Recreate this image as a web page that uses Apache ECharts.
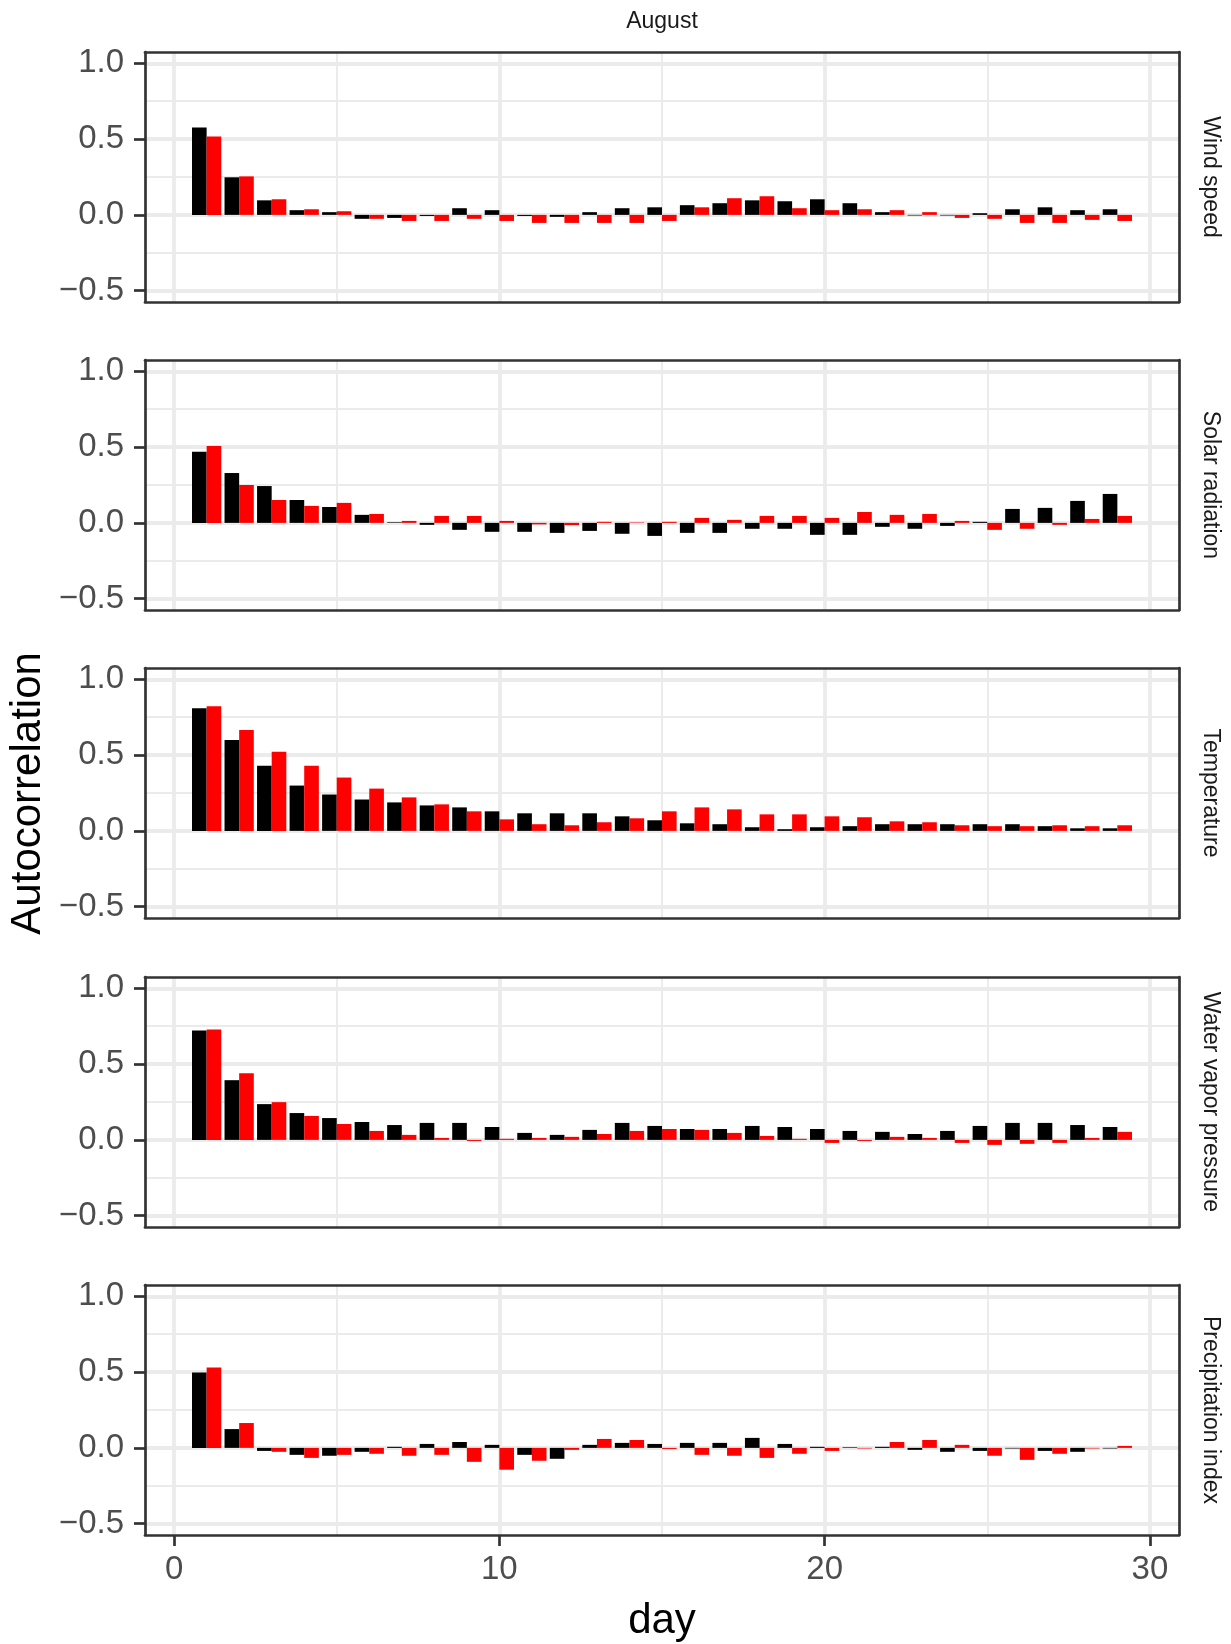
<!DOCTYPE html>
<html><head><meta charset="utf-8">
<script src="https://cdn.jsdelivr.net/npm/echarts@6/dist/echarts.min.js"></script>
<style>html,body{margin:0;padding:0;background:#fff}#c{width:1231px;height:1644px}</style>
</head><body><div id="c"></div>
<script>
// ---------- data ----------
const monthTitle = "August";
const panelNames = ["Wind speed", "Solar radiation", "Temperature", "Water vapor pressure", "Precipitation index"];
const days = [1,2,3,4,5,6,7,8,9,10,11,12,13,14,15,16,17,18,19,20,21,22,23,24,25,26,27,28,29];

const windBlack = [0.577,0.248,0.096,0.031,0.018,-0.026,-0.020,-0.007,0.044,0.031,-0.007,-0.013,0.018,0.044,0.050,0.064,0.077,0.096,0.090,0.103,0.077,0.018,-0.004,-0.004,0.011,0.037,0.050,0.031,0.037];
const windRed   = [0.518,0.254,0.103,0.037,0.024,-0.026,-0.040,-0.040,-0.026,-0.040,-0.053,-0.053,-0.053,-0.053,-0.040,0.050,0.110,0.123,0.044,0.031,0.037,0.031,0.018,-0.020,-0.026,-0.053,-0.053,-0.033,-0.040];

const solarBlack = [0.469,0.329,0.243,0.151,0.105,0.053,0.004,-0.013,-0.046,-0.059,-0.059,-0.066,-0.053,-0.072,-0.086,-0.066,-0.066,-0.039,-0.039,-0.079,-0.079,-0.026,-0.039,-0.020,0.007,0.092,0.099,0.145,0.191];
const solarRed   = [0.507,0.250,0.151,0.112,0.132,0.059,0.013,0.046,0.046,0.013,-0.010,-0.015,0.007,0.003,0.007,0.033,0.020,0.046,0.046,0.033,0.072,0.053,0.059,0.013,-0.046,-0.039,-0.013,0.026,0.046];

const tempBlack = [0.810,0.600,0.430,0.299,0.240,0.207,0.188,0.168,0.155,0.129,0.116,0.116,0.116,0.096,0.070,0.050,0.044,0.024,0.011,0.024,0.031,0.044,0.044,0.044,0.044,0.044,0.031,0.017,0.017];
const tempRed   = [0.823,0.666,0.522,0.430,0.352,0.279,0.221,0.175,0.129,0.076,0.044,0.037,0.057,0.083,0.129,0.155,0.142,0.109,0.109,0.096,0.090,0.063,0.057,0.037,0.031,0.031,0.037,0.031,0.037];

const vaporBlack = [0.722,0.394,0.236,0.177,0.144,0.118,0.098,0.112,0.112,0.085,0.046,0.033,0.066,0.112,0.092,0.072,0.072,0.092,0.085,0.072,0.059,0.053,0.039,0.059,0.092,0.112,0.112,0.098,0.085];
const vaporRed   = [0.729,0.440,0.249,0.158,0.105,0.059,0.033,0.013,-0.007,0.007,0.013,0.020,0.039,0.059,0.072,0.066,0.046,0.026,0.007,-0.020,-0.007,0.020,0.013,-0.020,-0.033,-0.026,-0.020,0.013,0.053];

const precipBlack = [0.498,0.124,-0.020,-0.046,-0.052,-0.026,0.007,0.026,0.039,0.020,-0.046,-0.072,0.020,0.033,0.026,0.033,0.033,0.066,0.026,0.007,0.004,0.007,-0.013,-0.026,-0.020,-0.004,-0.020,-0.026,-0.004];
const precipRed   = [0.531,0.164,-0.026,-0.066,-0.046,-0.039,-0.052,-0.046,-0.092,-0.144,-0.085,-0.013,0.059,0.052,-0.007,-0.046,-0.052,-0.066,-0.039,-0.020,-0.004,0.039,0.052,0.020,-0.052,-0.079,-0.039,-0.004,0.013];

const blackSeries = [windBlack, solarBlack, tempBlack, vaporBlack, precipBlack];
const redSeries = [windRed, solarRed, tempRed, vaporRed, precipRed];

const xTicks = [0, 10, 20, 30];
const xMinor = [5, 15, 25];
const yTicks = [-0.5, 0, 0.5, 1.0];
const yMinor = [-0.25, 0.25, 0.75];
const xLabelText = "day";
const yLabelText = "Autocorrelation";

// ---------- layout ----------
const X_MIN = -0.895, X_MAX = 30.895;
const Y_MIN = -0.575, Y_MAX = 1.075;
const GRID_LEFT = 145, GRID_RIGHT = 52;
const TOP0 = 52, STEP = 308.2, PANEL_H = 250;
const FONT = '"Liberation Sans", Arial, Helvetica, sans-serif';
const BORDER = '#333333', GRIDC = '#ebebeb';
const LW = 2.7, MAJ = 3.8, MIN_W = 1.9;

const fmtY = v => (v < 0 ? '\u2212' : '') + Math.abs(v).toFixed(1);

const option = {
  animation: false,
  backgroundColor: '#ffffff',
  grid: [], xAxis: [], yAxis: [], series: [], graphic: []
};

panelNames.forEach((name, p) => {
  const top = Math.round(TOP0 + p * STEP);
  const isBottom = p === panelNames.length - 1;
  option.grid.push({left: GRID_LEFT, right: GRID_RIGHT, top: top, height: PANEL_H, show: false});

  // primary x (bottom)
  option.xAxis.push({
    type: 'value', gridIndex: p, min: X_MIN, max: X_MAX, position: 'bottom',
    axisLine: {show: true, onZero: false, lineStyle: {color: BORDER, width: LW}},
    axisTick: {show: isBottom, customValues: xTicks, length: 11, lineStyle: {color: BORDER, width: LW}},
    axisLabel: {show: isBottom, customValues: xTicks, fontSize: 33, color: '#4d4d4d', margin: 18, fontFamily: FONT},
    splitLine: {show: true, lineStyle: {color: GRIDC, width: MAJ}}
  });
  // secondary x (top) - minor grid + top border
  option.xAxis.push({
    type: 'value', gridIndex: p, min: X_MIN, max: X_MAX, position: 'top',
    axisLine: {show: true, onZero: false, lineStyle: {color: BORDER, width: LW}},
    axisTick: {show: false, customValues: xMinor},
    axisLabel: {show: false, customValues: xMinor},
    splitLine: {show: true, lineStyle: {color: GRIDC, width: MIN_W}}
  });
  // primary y (left)
  option.yAxis.push({
    type: 'value', gridIndex: p, min: Y_MIN, max: Y_MAX, position: 'left',
    axisLine: {show: true, onZero: false, lineStyle: {color: BORDER, width: LW}},
    axisTick: {show: true, customValues: yTicks, length: 11, lineStyle: {color: BORDER, width: LW}},
    axisLabel: {show: true, customValues: yTicks, fontSize: 33, color: '#4d4d4d', margin: 21, fontFamily: FONT, formatter: fmtY},
    splitLine: {show: true, lineStyle: {color: GRIDC, width: MAJ}}
  });
  // secondary y (right) - minor grid + right border
  option.yAxis.push({
    type: 'value', gridIndex: p, min: Y_MIN, max: Y_MAX, position: 'right',
    axisLine: {show: true, onZero: false, lineStyle: {color: BORDER, width: LW}},
    axisTick: {show: false, customValues: yMinor},
    axisLabel: {show: false, customValues: yMinor},
    splitLine: {show: true, lineStyle: {color: GRIDC, width: MIN_W}}
  });

  option.series.push({
    type: 'bar', xAxisIndex: 2 * p, yAxisIndex: 2 * p,
    data: days.map((d, i) => [d, blackSeries[p][i]]),
    barWidth: '45%', barGap: '0%',
    itemStyle: {color: '#000000'}
  });
  option.series.push({
    type: 'bar', xAxisIndex: 2 * p, yAxisIndex: 2 * p,
    data: days.map((d, i) => [d, redSeries[p][i]]),
    barWidth: '45%', barGap: '0%',
    itemStyle: {color: '#ff0000'}
  });

  // strip label (right side, rotated)
  option.graphic.push({
    type: 'text', x: 1210, y: top + PANEL_H / 2, rotation: -Math.PI / 2,
    style: {text: name, font: '23px ' + FONT, fill: '#1a1a1a', align: 'center', verticalAlign: 'middle'}
  });
});

// top strip (month)
option.graphic.push({
  type: 'text', x: (GRID_LEFT + 1231 - GRID_RIGHT) / 2, y: 22,
  style: {text: monthTitle, font: '23px ' + FONT, fill: '#1a1a1a', align: 'center', verticalAlign: 'middle'}
});
// axis titles
option.graphic.push({
  type: 'text', x: 28, y: TOP0 + (STEP * 4 + PANEL_H) / 2, rotation: Math.PI / 2,
  style: {text: yLabelText, font: '42px ' + FONT, fill: '#000000', align: 'center', verticalAlign: 'middle'}
});
option.graphic.push({
  type: 'text', x: (GRID_LEFT + 1231 - GRID_RIGHT) / 2, y: 1621,
  style: {text: xLabelText, font: '42px ' + FONT, fill: '#000000', align: 'center', verticalAlign: 'middle'}
});

const chart = echarts.init(document.getElementById('c'), null, {renderer: 'canvas'});
chart.setOption(option);
</script>
</body></html>
